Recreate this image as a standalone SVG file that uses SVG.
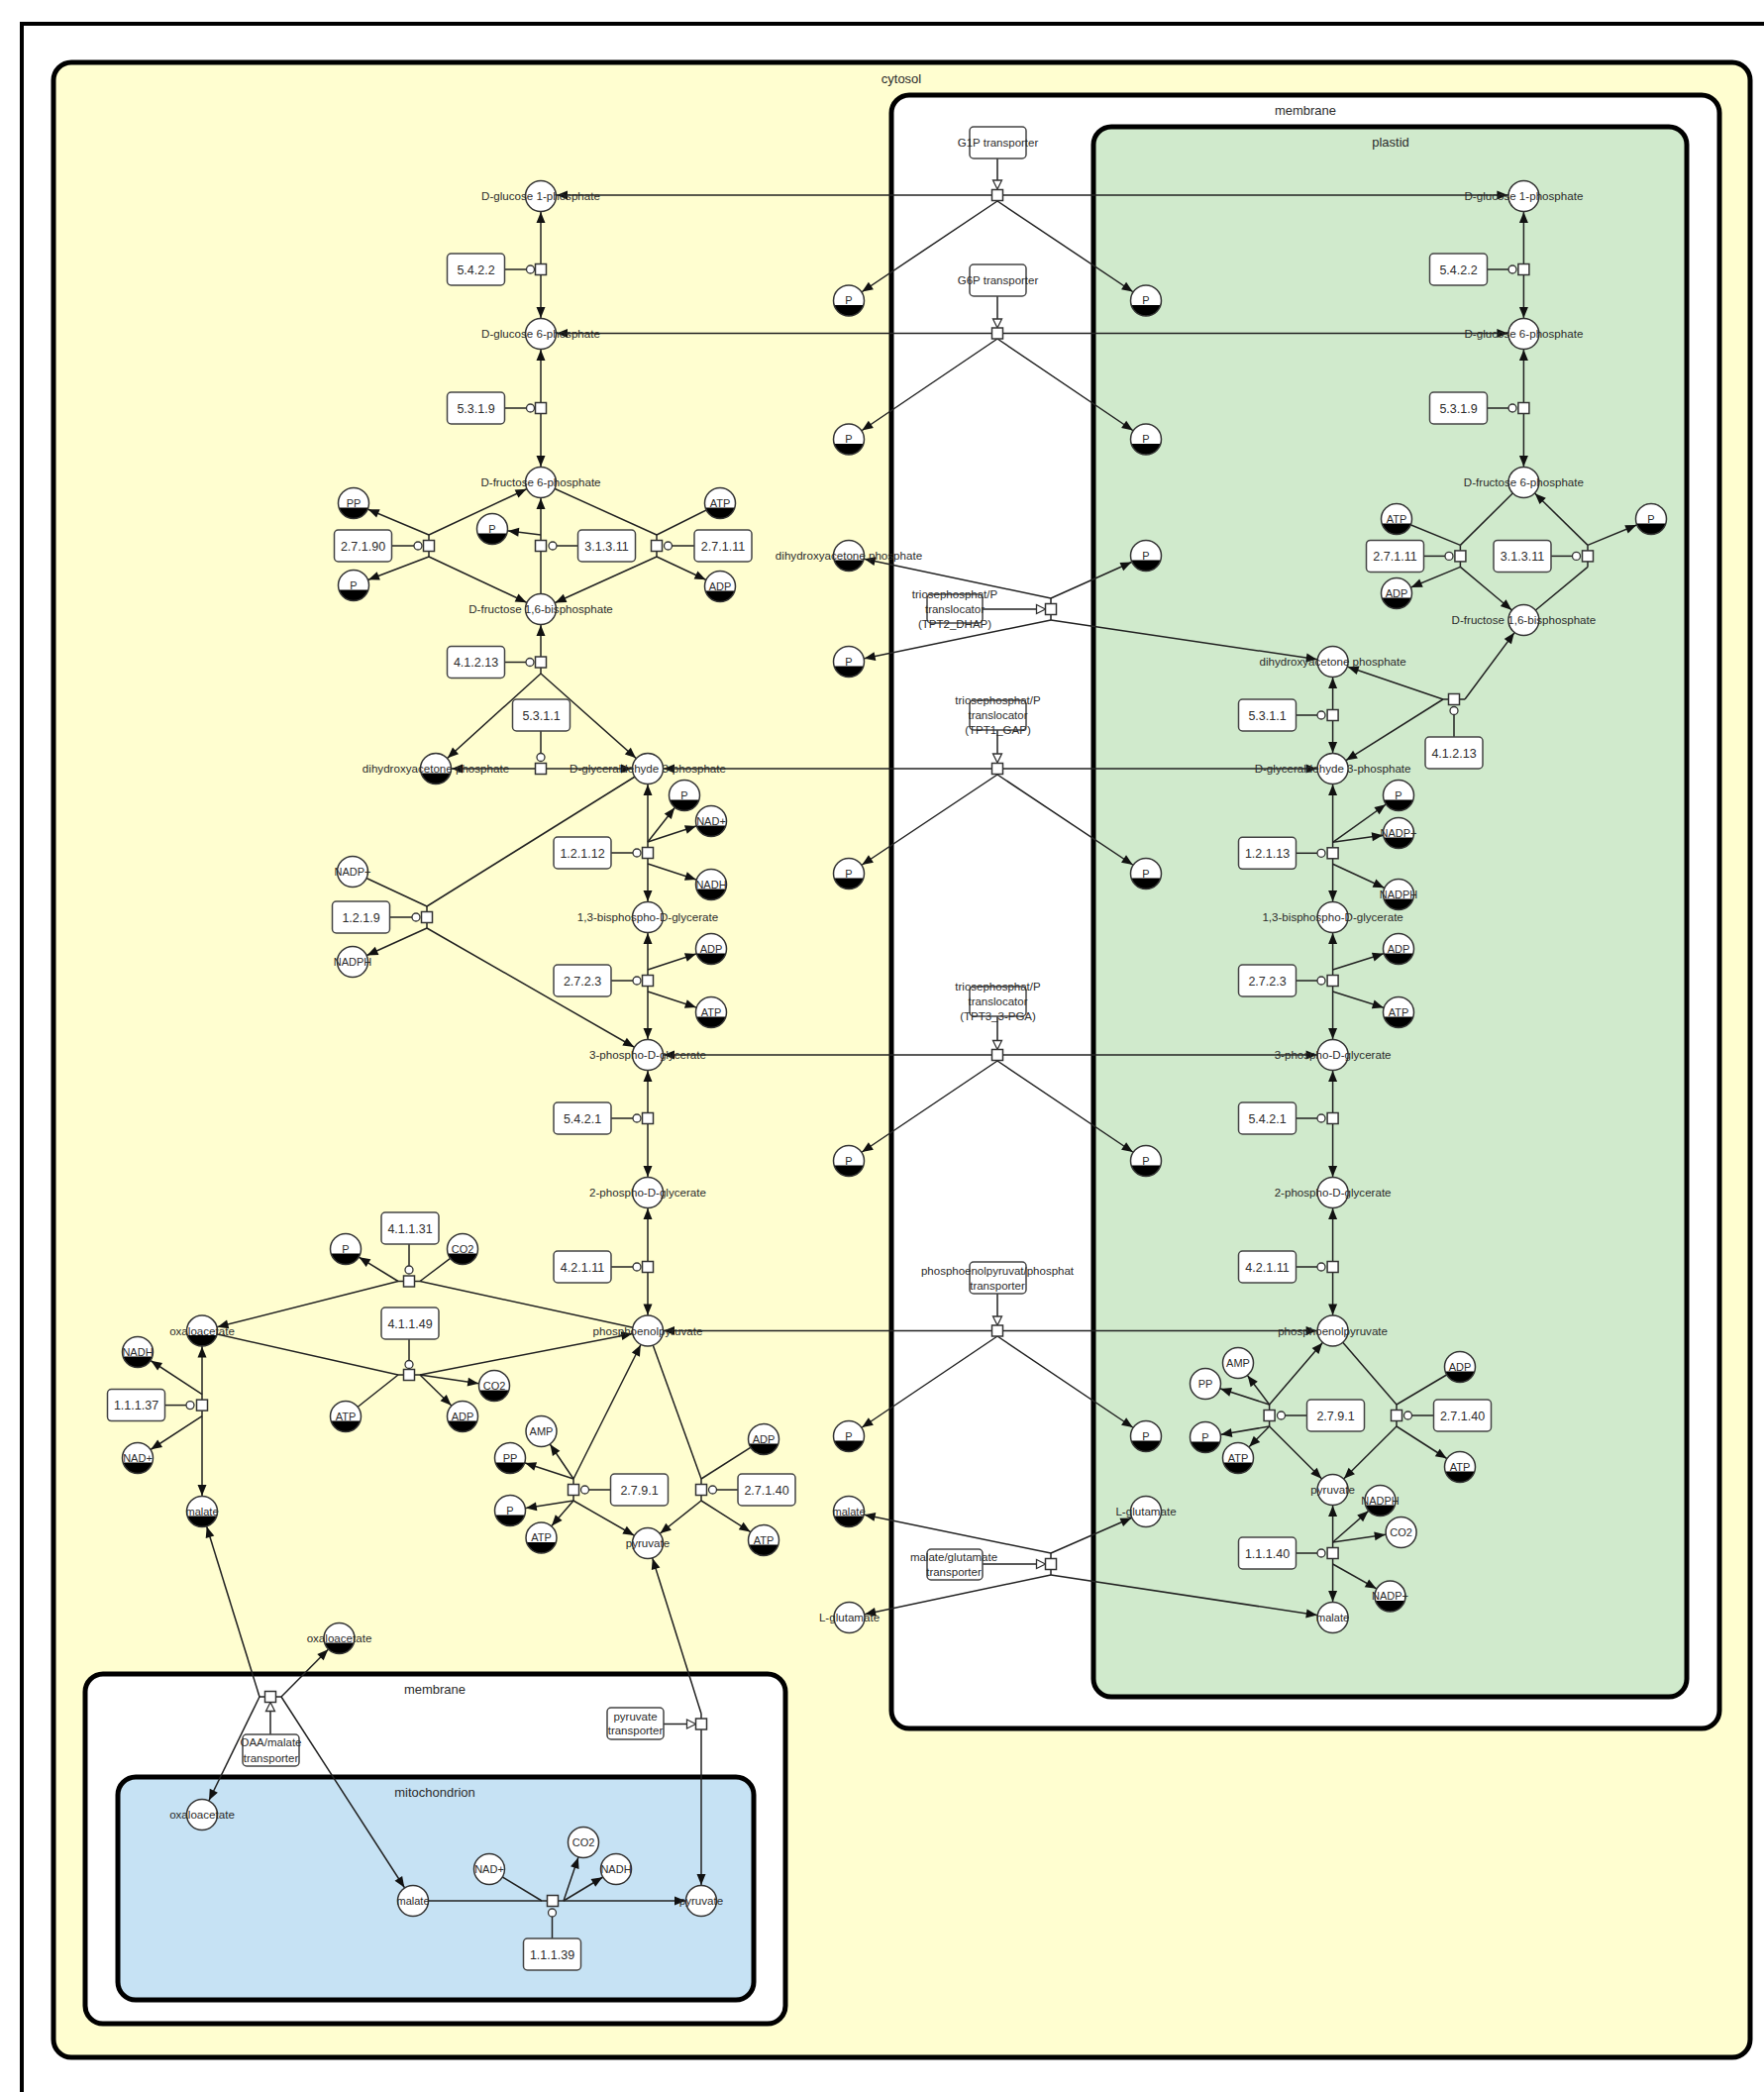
<svg xmlns="http://www.w3.org/2000/svg" xmlns:xlink="http://www.w3.org/1999/xlink" width="1781" height="2112" viewBox="0 0 1781 2112">
<style>
.e{stroke:#222;stroke-width:1.5;fill:none}
.ea{marker-end:url(#arr)}
.eb{marker-start:url(#arr);marker-end:url(#arr)}
text{font-family:"Liberation Sans",Arial,sans-serif;text-anchor:middle;fill:#2b2b2b}
.l{font-size:11.6px}
.s{font-size:11px}
.n{font-size:12.5px}
.c{font-size:13px}
.tr{font-size:11.5px}
.comp{stroke:#000;stroke-width:5}
</style>
<defs>
<marker id="arr" markerUnits="userSpaceOnUse" markerWidth="20" markerHeight="12" refX="16" refY="0" orient="auto-start-reverse" overflow="visible">
<path d="M-11,-4.5 L0,0 L-11,4.5 Z" fill="#111"/>
</marker>
<circle id="mw" r="15.5" fill="#fff" stroke="#333" stroke-width="1.5"/>
<g id="mc">
<circle r="15.5" fill="#fff"/>
<path d="M-14.83,4.5 A15.5,15.5 0 0 0 14.83,4.5 Z" fill="#000"/>
<circle r="15.5" fill="none" stroke="#333" stroke-width="1.5"/>
</g>
<rect id="sq" x="-5.5" y="-5.5" width="11" height="11" fill="#fff" stroke="#333" stroke-width="1.5"/>
<circle id="ci" r="4" fill="#fff" stroke="#333" stroke-width="1.3"/>
<rect id="en" x="-29" y="-16" width="58" height="32" rx="4" fill="#fff" stroke="#444" stroke-width="1.5"/>
<path id="td" d="M0,0 L-4.5,-9 L4.5,-9 Z" fill="#fff" stroke="#333" stroke-width="1.3"/>
<path id="tu" d="M0,0 L-4.5,9 L4.5,9 Z" fill="#fff" stroke="#333" stroke-width="1.3"/>
<path id="tr" d="M0,0 L-9,-4.5 L-9,4.5 Z" fill="#fff" stroke="#333" stroke-width="1.3"/>
</defs>

<rect width="1781" height="2112" fill="#fff"/>
<!-- outer frame -->
<path d="M22,2120 L22,24 L1790,24" fill="none" stroke="#000" stroke-width="4"/>

<!-- compartments -->
<g id="cytosol">
<rect class="comp" x="54" y="63" width="1713" height="2014" rx="18" fill="#fffed0"/>
<text class="c" x="910" y="84">cytosol</text>
</g>
<g id="plastid-membrane">
<rect class="comp" x="900" y="96" width="836" height="1649" rx="18" fill="#fff"/>
<text class="c" x="1318" y="116">membrane</text>
</g>
<g id="plastid">
<rect class="comp" x="1104" y="128" width="599" height="1585" rx="18" fill="#d0eacc"/>
<text class="c" x="1404" y="148">plastid</text>
</g>
<g id="mito-membrane">
<rect class="comp" x="86" y="1690" width="707" height="353" rx="18" fill="#fff"/>
<text class="c" x="439" y="1710">membrane</text>
</g>
<g id="mitochondrion">
<rect class="comp" x="119" y="1794" width="642" height="225" rx="18" fill="#c6e2f4"/>
<text class="c" x="439" y="1814">mitochondrion</text>
</g>

<!-- connectors -->
<g id="connectors" class="e">
<!-- cytosol: 5.4.2.2 -->
<path class="ea" d="M546,272 L546,198"/>
<path class="ea" d="M546,272 L546,337"/>
<path d="M509,272 L531.5,272"/>
<!-- 5.3.1.9 -->
<path class="ea" d="M546,412 L546,337"/>
<path class="ea" d="M546,412 L546,487"/>
<path d="M509,412 L531.5,412"/>
<!-- 2.7.1.90 -->
<path d="M433,540 L433,562"/>
<path class="ea" d="M433,540 L546,487"/>
<path class="ea" d="M433,540 L357,508"/>
<path class="ea" d="M433,562 L546,615"/>
<path class="ea" d="M433,562 L357,591"/>
<path d="M395,551 L418,551"/>
<!-- 3.1.3.11 -->
<path class="ea" d="M546,551 L546,487"/>
<path d="M546,551 L546,615"/>
<path class="ea" d="M546,540 L497,534"/>
<path d="M584,551 L562,551"/>
<!-- 2.7.1.11 -->
<path d="M663,540 L663,562"/>
<path d="M663,540 L546,487"/>
<path d="M663,540 L727,508"/>
<path class="ea" d="M663,562 L546,615"/>
<path class="ea" d="M663,562 L727,592"/>
<path d="M701,551 L678.5,551"/>
<!-- 4.1.2.13 -->
<path class="ea" d="M546,668.5 L546,615"/>
<path d="M546,668.5 L546,680"/>
<path class="ea" d="M546,680 L440,776"/>
<path class="ea" d="M546,680 L654,776"/>
<path d="M509,668.5 L531,668.5"/>
<!-- 5.3.1.1 -->
<path class="ea" d="M546,776 L440,776"/>
<path class="ea" d="M546,776 L654,776"/>
<path d="M546,738 L546,760.5"/>
<!-- 1.2.1.9 -->
<path d="M431,915 L431,937"/>
<path d="M431,915 L654,776"/>
<path d="M431,915 L356,880"/>
<path class="ea" d="M431,937 L654,1065"/>
<path class="ea" d="M431,937 L356,971"/>
<path d="M393,926 L416,926"/>
<!-- 1.2.1.12 -->
<path class="ea" d="M654,861 L654,776"/>
<path class="ea" d="M654,861 L654,926"/>
<path class="ea" d="M654,850 L691,803"/>
<path class="ea" d="M654,850 L718,829"/>
<path class="ea" d="M654,872 L718,893"/>
<path d="M617,861 L639,861"/>
<!-- 2.7.2.3 -->
<path class="ea" d="M654,990 L654,926"/>
<path class="ea" d="M654,990 L654,1065"/>
<path class="ea" d="M654,979 L718,958"/>
<path class="ea" d="M654,1001 L718,1022"/>
<path d="M617,990 L639,990"/>
<!-- 5.4.2.1 -->
<path class="ea" d="M654,1129 L654,1065"/>
<path class="ea" d="M654,1129 L654,1204"/>
<path d="M617,1129 L639,1129"/>
<!-- 4.2.1.11 -->
<path class="ea" d="M654,1279 L654,1204"/>
<path class="ea" d="M654,1279 L654,1343.5"/>
<path d="M617,1279 L639,1279"/>
<!-- 2.7.9.1 -->
<path d="M579,1493 L579,1515"/>
<path class="ea" d="M579,1493 L654,1343.5"/>
<path class="ea" d="M579,1493 L546.5,1445"/>
<path class="ea" d="M579,1493 L515,1472"/>
<path class="ea" d="M579,1515 L515,1525"/>
<path class="ea" d="M579,1515 L546.5,1552.5"/>
<path class="ea" d="M579,1515 L654,1558"/>
<path d="M617,1504 L594.5,1504"/>
<!-- 2.7.1.40 -->
<path d="M708,1493 L708,1515"/>
<path d="M708,1493 L654,1343.5"/>
<path d="M708,1493 L771,1453"/>
<path class="ea" d="M708,1515 L654,1558"/>
<path class="ea" d="M708,1515 L771,1555"/>
<path d="M745,1504 L723.5,1504"/>
<!-- 4.1.1.31 -->
<path d="M402,1293.5 L424,1293.5"/>
<path class="ea" d="M402,1293.5 L204,1343.6"/>
<path class="ea" d="M402,1293.5 L349,1261"/>
<path d="M424,1293.5 L654,1343.5"/>
<path d="M424,1293.5 L467,1261"/>
<path d="M413,1256 L413,1278"/>
<!-- 4.1.1.49 -->
<path d="M402,1388 L424,1388"/>
<path d="M402,1388 L204,1343.6"/>
<path d="M402,1388 L349,1430"/>
<path class="ea" d="M424,1388 L654,1343.5"/>
<path class="ea" d="M424,1388 L499,1399"/>
<path class="ea" d="M424,1388 L467,1430"/>
<path d="M413,1352 L413,1373.5"/>
<!-- 1.1.1.37 -->
<path class="ea" d="M204,1418.6 L204,1343.6"/>
<path class="ea" d="M204,1418.6 L204,1526"/>
<path class="ea" d="M204,1407.6 L139,1365"/>
<path class="ea" d="M204,1429.6 L139,1472"/>
<path d="M166,1418.6 L188,1418.6"/>
<!-- OAA/malate transporter -->
<path d="M262,1713 L284,1713"/>
<path class="ea" d="M262,1713 L204,1526"/>
<path class="ea" d="M262,1713 L204,1832"/>
<path class="ea" d="M284,1713 L342.5,1654"/>
<path class="ea" d="M284,1713 L417,1919"/>
<path d="M273,1751 L273,1727"/>
<!-- 1.1.1.39 -->
<path d="M547,1919 L569,1919"/>
<path d="M547,1919 L417,1919"/>
<path d="M547,1919 L494,1887"/>
<path class="ea" d="M569,1919 L708,1919"/>
<path class="ea" d="M569,1919 L589,1860"/>
<path class="ea" d="M569,1919 L622,1887"/>
<path d="M557.5,1957 L557.5,1935"/>
<!-- pyruvate transporter -->
<path d="M708,1740.5 L708,1730"/>
<path class="ea" d="M708,1730 L654,1558"/>
<path class="ea" d="M708,1740.5 L708,1919"/>
<path d="M670,1740.5 L694,1740.5"/>
<!-- G1P transporter -->
<path class="eb" d="M546,197 L1538.4,197"/>
<path d="M1007,197 L1007,203"/>
<path class="ea" d="M1007,203 L857,303.5"/>
<path class="ea" d="M1007,203 L1157,303.5"/>
<path d="M1007,160 L1007,182"/>
<!-- G6P transporter -->
<path class="eb" d="M546,336.5 L1538.4,336.5"/>
<path d="M1007,336.5 L1007,342"/>
<path class="ea" d="M1007,342 L857,443.5"/>
<path class="ea" d="M1007,342 L1157,443.5"/>
<path d="M1007,299 L1007,322"/>
<!-- TPT2 (DHAP) -->
<path d="M1061,604 L1061,626"/>
<path class="ea" d="M1061,604 L857,561"/>
<path class="ea" d="M1061,604 L1157,561"/>
<path class="ea" d="M1061,626 L857,668"/>
<path class="ea" d="M1061,626 L1345.6,668"/>
<path d="M992,615 L1047,615"/>
<!-- TPT1 (GAP) -->
<path class="eb" d="M654,776 L1345.6,776"/>
<path d="M1007,776 L1007,782"/>
<path class="ea" d="M1007,782 L857,882"/>
<path class="ea" d="M1007,782 L1157,882"/>
<path d="M1007,737 L1007,761"/>
<!-- TPT3 (3-PGA) -->
<path class="eb" d="M654,1065 L1345.6,1065"/>
<path d="M1007,1065 L1007,1071"/>
<path class="ea" d="M1007,1071 L857,1172"/>
<path class="ea" d="M1007,1071 L1157,1172"/>
<path d="M1007,1026 L1007,1050.5"/>
<!-- PEP/phosphate transporter -->
<path class="eb" d="M654,1343.5 L1345.6,1343.5"/>
<path d="M1007,1343.5 L1007,1349"/>
<path class="ea" d="M1007,1349 L857,1450"/>
<path class="ea" d="M1007,1349 L1157,1450"/>
<path d="M1007,1306 L1007,1329"/>
<!-- malate/glutamate transporter -->
<path d="M1061,1568 L1061,1590"/>
<path class="ea" d="M1061,1568 L857,1526"/>
<path class="ea" d="M1061,1568 L1157,1526"/>
<path class="ea" d="M1061,1590 L857.5,1633"/>
<path class="ea" d="M1061,1590 L1345.6,1633"/>
<path d="M992,1579 L1047,1579"/>
<!-- plastid: 5.4.2.2 -->
<path class="ea" d="M1538.4,272 L1538.4,198"/>
<path class="ea" d="M1538.4,272 L1538.4,337"/>
<path d="M1501,272 L1523,272"/>
<!-- 5.3.1.9 -->
<path class="ea" d="M1538.4,412 L1538.4,337"/>
<path class="ea" d="M1538.4,412 L1538.4,487"/>
<path d="M1501,412 L1523,412"/>
<!-- 2.7.1.11 -->
<path d="M1474.4,550.4 L1474.4,572.4"/>
<path d="M1474.4,550.4 L1538.4,487"/>
<path d="M1474.4,550.4 L1410,524"/>
<path class="ea" d="M1474.4,572.4 L1538.4,626"/>
<path class="ea" d="M1474.4,572.4 L1410,599"/>
<path d="M1437,561.4 L1459,561.4"/>
<!-- 3.1.3.11 -->
<path d="M1603,550.4 L1603,572.4"/>
<path class="ea" d="M1603,550.4 L1538.4,487"/>
<path class="ea" d="M1603,550.4 L1667,524"/>
<path d="M1603,572.4 L1538.4,626"/>
<path d="M1565,561.4 L1587.5,561.4"/>
<!-- 4.1.2.13 -->
<path d="M1457,706 L1479,706"/>
<path class="ea" d="M1479,706 L1538.4,626"/>
<path class="ea" d="M1457,706 L1345.6,668"/>
<path class="ea" d="M1457,706 L1345.6,776"/>
<path d="M1468,744 L1468,721.5"/>
<!-- 5.3.1.1 -->
<path class="ea" d="M1345.6,722 L1345.6,668"/>
<path class="ea" d="M1345.6,722 L1345.6,776"/>
<path d="M1308,722 L1330,722"/>
<!-- 1.2.1.13 -->
<path class="ea" d="M1345.6,861.3 L1345.6,776"/>
<path class="ea" d="M1345.6,861.3 L1345.6,926"/>
<path class="ea" d="M1345.6,850.3 L1412,803"/>
<path class="ea" d="M1345.6,850.3 L1412,841"/>
<path class="ea" d="M1345.6,872.3 L1412,903"/>
<path d="M1308,861.3 L1330,861.3"/>
<!-- 2.7.2.3 -->
<path class="ea" d="M1345.6,990 L1345.6,926"/>
<path class="ea" d="M1345.6,990 L1345.6,1065"/>
<path class="ea" d="M1345.6,979 L1412,958"/>
<path class="ea" d="M1345.6,1001 L1412,1022"/>
<path d="M1308,990 L1330,990"/>
<!-- 5.4.2.1 -->
<path class="ea" d="M1345.6,1129 L1345.6,1065"/>
<path class="ea" d="M1345.6,1129 L1345.6,1204"/>
<path d="M1308,1129 L1330,1129"/>
<!-- 4.2.1.11 -->
<path class="ea" d="M1345.6,1279 L1345.6,1204"/>
<path class="ea" d="M1345.6,1279 L1345.6,1343.5"/>
<path d="M1308,1279 L1330,1279"/>
<!-- 2.7.9.1 -->
<path d="M1281.6,1418 L1281.6,1440"/>
<path class="ea" d="M1281.6,1418 L1345.6,1343.5"/>
<path class="ea" d="M1281.6,1418 L1250,1376"/>
<path class="ea" d="M1281.6,1418 L1217,1397"/>
<path class="ea" d="M1281.6,1440 L1217,1451"/>
<path class="ea" d="M1281.6,1440 L1250,1472"/>
<path class="ea" d="M1281.6,1440 L1345.6,1504"/>
<path d="M1320,1429 L1297.5,1429"/>
<!-- 2.7.1.40 -->
<path d="M1410,1418 L1410,1440"/>
<path d="M1410,1418 L1345.6,1343.5"/>
<path d="M1410,1418 L1474,1380"/>
<path class="ea" d="M1410,1440 L1345.6,1504"/>
<path class="ea" d="M1410,1440 L1474,1481"/>
<path d="M1448,1429 L1425.5,1429"/>
<!-- 1.1.1.40 -->
<path class="ea" d="M1345.6,1568 L1345.6,1504"/>
<path class="ea" d="M1345.6,1568 L1345.6,1633"/>
<path class="ea" d="M1345.6,1557 L1393.5,1515"/>
<path class="ea" d="M1345.6,1557 L1414.6,1547"/>
<path class="ea" d="M1345.6,1579 L1403.5,1611.6"/>
<path d="M1308,1568 L1330,1568"/>
</g>

<!-- transport modulation heads -->
<g id="transport-heads">
<use xlink:href="#td" x="1007" y="191"/>
<use xlink:href="#td" x="1007" y="331"/>
<use xlink:href="#tr" x="1055.5" y="615"/>
<use xlink:href="#td" x="1007" y="770"/>
<use xlink:href="#td" x="1007" y="1059.5"/>
<use xlink:href="#td" x="1007" y="1338"/>
<use xlink:href="#tr" x="1055.5" y="1579"/>
<use xlink:href="#tu" x="273" y="1718.5"/>
<use xlink:href="#tr" x="702.5" y="1740.5"/>
</g>

<!-- process nodes -->
<g id="processes">
<g id="pr-c-5422"><use xlink:href="#sq" x="546" y="272"/><use xlink:href="#ci" x="535.5" y="272"/></g>
<g id="pr-c-5319"><use xlink:href="#sq" x="546" y="412"/><use xlink:href="#ci" x="535.5" y="412"/></g>
<g id="pr-c-27190"><use xlink:href="#sq" x="433" y="551"/><use xlink:href="#ci" x="422" y="551"/></g>
<g id="pr-c-31311"><use xlink:href="#sq" x="546" y="551"/><use xlink:href="#ci" x="558" y="551"/></g>
<g id="pr-c-27111"><use xlink:href="#sq" x="663" y="551"/><use xlink:href="#ci" x="674.5" y="551"/></g>
<g id="pr-c-41213"><use xlink:href="#sq" x="546" y="668.5"/><use xlink:href="#ci" x="535" y="668.5"/></g>
<g id="pr-c-5311"><use xlink:href="#sq" x="546" y="776"/><use xlink:href="#ci" x="546" y="764.5"/></g>
<g id="pr-c-1219"><use xlink:href="#sq" x="431" y="926"/><use xlink:href="#ci" x="420" y="926"/></g>
<g id="pr-c-12112"><use xlink:href="#sq" x="654" y="861"/><use xlink:href="#ci" x="643" y="861"/></g>
<g id="pr-c-2723"><use xlink:href="#sq" x="654" y="990"/><use xlink:href="#ci" x="643" y="990"/></g>
<g id="pr-c-5421"><use xlink:href="#sq" x="654" y="1129"/><use xlink:href="#ci" x="643" y="1129"/></g>
<g id="pr-c-42111"><use xlink:href="#sq" x="654" y="1279"/><use xlink:href="#ci" x="643" y="1279"/></g>
<g id="pr-c-2791"><use xlink:href="#sq" x="579" y="1504"/><use xlink:href="#ci" x="590.5" y="1504"/></g>
<g id="pr-c-27140"><use xlink:href="#sq" x="708" y="1504"/><use xlink:href="#ci" x="719.5" y="1504"/></g>
<g id="pr-c-41131"><use xlink:href="#sq" x="413" y="1293.5"/><use xlink:href="#ci" x="413" y="1282"/></g>
<g id="pr-c-41149"><use xlink:href="#sq" x="413" y="1388"/><use xlink:href="#ci" x="413" y="1377.5"/></g>
<g id="pr-c-11137"><use xlink:href="#sq" x="204" y="1418.6"/><use xlink:href="#ci" x="192" y="1418.6"/></g>
<g id="pr-oaa-mal"><use xlink:href="#sq" x="273" y="1713"/></g>
<g id="pr-m-11139"><use xlink:href="#sq" x="558" y="1919"/><use xlink:href="#ci" x="557.5" y="1931"/></g>
<g id="pr-pyr-tr"><use xlink:href="#sq" x="708" y="1740.5"/></g>
<g id="pr-g1p-tr"><use xlink:href="#sq" x="1007" y="197"/></g>
<g id="pr-g6p-tr"><use xlink:href="#sq" x="1007" y="336.5"/></g>
<g id="pr-tpt2"><use xlink:href="#sq" x="1061" y="615"/></g>
<g id="pr-tpt1"><use xlink:href="#sq" x="1007" y="776"/></g>
<g id="pr-tpt3"><use xlink:href="#sq" x="1007" y="1065"/></g>
<g id="pr-ppt"><use xlink:href="#sq" x="1007" y="1343.5"/></g>
<g id="pr-malglu"><use xlink:href="#sq" x="1061" y="1579"/></g>
<g id="pr-p-5422"><use xlink:href="#sq" x="1538.4" y="272"/><use xlink:href="#ci" x="1527" y="272"/></g>
<g id="pr-p-5319"><use xlink:href="#sq" x="1538.4" y="412"/><use xlink:href="#ci" x="1527" y="412"/></g>
<g id="pr-p-27111"><use xlink:href="#sq" x="1474.4" y="561.4"/><use xlink:href="#ci" x="1463" y="561.4"/></g>
<g id="pr-p-31311"><use xlink:href="#sq" x="1603" y="561.4"/><use xlink:href="#ci" x="1591.5" y="561.4"/></g>
<g id="pr-p-41213"><use xlink:href="#sq" x="1468" y="706"/><use xlink:href="#ci" x="1468" y="717.5"/></g>
<g id="pr-p-5311"><use xlink:href="#sq" x="1345.6" y="722"/><use xlink:href="#ci" x="1334" y="722"/></g>
<g id="pr-p-12113"><use xlink:href="#sq" x="1345.6" y="861.3"/><use xlink:href="#ci" x="1334" y="861.3"/></g>
<g id="pr-p-2723"><use xlink:href="#sq" x="1345.6" y="990"/><use xlink:href="#ci" x="1334" y="990"/></g>
<g id="pr-p-5421"><use xlink:href="#sq" x="1345.6" y="1129"/><use xlink:href="#ci" x="1334" y="1129"/></g>
<g id="pr-p-42111"><use xlink:href="#sq" x="1345.6" y="1279"/><use xlink:href="#ci" x="1334" y="1279"/></g>
<g id="pr-p-2791"><use xlink:href="#sq" x="1281.6" y="1429"/><use xlink:href="#ci" x="1293.5" y="1429"/></g>
<g id="pr-p-27140"><use xlink:href="#sq" x="1410" y="1429"/><use xlink:href="#ci" x="1421.5" y="1429"/></g>
<g id="pr-p-11140"><use xlink:href="#sq" x="1345.6" y="1568"/><use xlink:href="#ci" x="1334" y="1568"/></g>
</g>

<!-- enzymes -->
<g id="enzymes">
<g id="en-c-5422"><use xlink:href="#en" x="480.5" y="272"/><text class="n" x="480.5" y="276.5">5.4.2.2</text></g>
<g id="en-c-5319"><use xlink:href="#en" x="480.5" y="412"/><text class="n" x="480.5" y="416.5">5.3.1.9</text></g>
<g id="en-c-27190"><use xlink:href="#en" x="366.5" y="551"/><text class="n" x="366.5" y="555.5">2.7.1.90</text></g>
<g id="en-c-31311"><use xlink:href="#en" x="612.5" y="551"/><text class="n" x="612.5" y="555.5">3.1.3.11</text></g>
<g id="en-c-27111"><use xlink:href="#en" x="730" y="551"/><text class="n" x="730" y="555.5">2.7.1.11</text></g>
<g id="en-c-41213"><use xlink:href="#en" x="480.5" y="668.5"/><text class="n" x="480.5" y="673">4.1.2.13</text></g>
<g id="en-c-5311"><use xlink:href="#en" x="546.5" y="722"/><text class="n" x="546.5" y="726.5">5.3.1.1</text></g>
<g id="en-c-1219"><use xlink:href="#en" x="364.5" y="926"/><text class="n" x="364.5" y="930.5">1.2.1.9</text></g>
<g id="en-c-12112"><use xlink:href="#en" x="588" y="861"/><text class="n" x="588" y="865.5">1.2.1.12</text></g>
<g id="en-c-2723"><use xlink:href="#en" x="588" y="990"/><text class="n" x="588" y="994.5">2.7.2.3</text></g>
<g id="en-c-5421"><use xlink:href="#en" x="588" y="1129"/><text class="n" x="588" y="1133.5">5.4.2.1</text></g>
<g id="en-c-42111"><use xlink:href="#en" x="588" y="1279"/><text class="n" x="588" y="1283.5">4.2.1.11</text></g>
<g id="en-c-2791"><use xlink:href="#en" x="645.5" y="1504"/><text class="n" x="645.5" y="1508.5">2.7.9.1</text></g>
<g id="en-c-27140"><use xlink:href="#en" x="774" y="1504"/><text class="n" x="774" y="1508.5">2.7.1.40</text></g>
<g id="en-c-41131"><use xlink:href="#en" x="414" y="1240"/><text class="n" x="414" y="1244.5">4.1.1.31</text></g>
<g id="en-c-41149"><use xlink:href="#en" x="414" y="1336"/><text class="n" x="414" y="1340.5">4.1.1.49</text></g>
<g id="en-c-11137"><use xlink:href="#en" x="137.5" y="1418.6"/><text class="n" x="137.5" y="1423">1.1.1.37</text></g>
<g id="en-m-11139"><use xlink:href="#en" x="557.5" y="1973"/><text class="n" x="557.5" y="1977.5">1.1.1.39</text></g>
<g id="en-p-5422"><use xlink:href="#en" x="1472.5" y="272"/><text class="n" x="1472.5" y="276.5">5.4.2.2</text></g>
<g id="en-p-5319"><use xlink:href="#en" x="1472.5" y="412"/><text class="n" x="1472.5" y="416.5">5.3.1.9</text></g>
<g id="en-p-27111"><use xlink:href="#en" x="1408.5" y="561.4"/><text class="n" x="1408.5" y="566">2.7.1.11</text></g>
<g id="en-p-31311"><use xlink:href="#en" x="1537" y="561.4"/><text class="n" x="1537" y="566">3.1.3.11</text></g>
<g id="en-p-41213"><use xlink:href="#en" x="1468" y="760"/><text class="n" x="1468" y="764.5">4.1.2.13</text></g>
<g id="en-p-5311"><use xlink:href="#en" x="1279.5" y="722"/><text class="n" x="1279.5" y="726.5">5.3.1.1</text></g>
<g id="en-p-12113"><use xlink:href="#en" x="1279.5" y="861.3"/><text class="n" x="1279.5" y="866">1.2.1.13</text></g>
<g id="en-p-2723"><use xlink:href="#en" x="1279.5" y="990"/><text class="n" x="1279.5" y="994.5">2.7.2.3</text></g>
<g id="en-p-5421"><use xlink:href="#en" x="1279.5" y="1129"/><text class="n" x="1279.5" y="1133.5">5.4.2.1</text></g>
<g id="en-p-42111"><use xlink:href="#en" x="1279.5" y="1279"/><text class="n" x="1279.5" y="1283.5">4.2.1.11</text></g>
<g id="en-p-2791"><use xlink:href="#en" x="1348.5" y="1429"/><text class="n" x="1348.5" y="1433.5">2.7.9.1</text></g>
<g id="en-p-27140"><use xlink:href="#en" x="1476.5" y="1429"/><text class="n" x="1476.5" y="1433.5">2.7.1.40</text></g>
<g id="en-p-11140"><use xlink:href="#en" x="1279.5" y="1568"/><text class="n" x="1279.5" y="1572.5">1.1.1.40</text></g>
</g>

<!-- transporters -->
<g id="transporters">
<g id="tr-g1p"><rect x="979" y="128" width="57" height="32" rx="4" fill="#fff" stroke="#444" stroke-width="1.5"/><text class="tr" x="1007.5" y="148">G1P transporter</text></g>
<g id="tr-g6p"><rect x="979" y="267" width="57" height="32" rx="4" fill="#fff" stroke="#444" stroke-width="1.5"/><text class="tr" x="1007.5" y="287">G6P transporter</text></g>
<g id="tr-tpt2"><rect x="936" y="600" width="56" height="29" rx="4" fill="#fff" stroke="#444" stroke-width="1.5"/><text class="tr" x="964" y="604">triosephosphat/P</text><text class="tr" x="964" y="619">translocator</text><text class="tr" x="964" y="634">(TPT2_DHAP)</text></g>
<g id="tr-tpt1"><rect x="979" y="707" width="57" height="30" rx="4" fill="#fff" stroke="#444" stroke-width="1.5"/><text class="tr" x="1007.5" y="711">triosephosphat/P</text><text class="tr" x="1007.5" y="726">translocator</text><text class="tr" x="1007.5" y="741">(TPT1_GAP)</text></g>
<g id="tr-tpt3"><rect x="979" y="996" width="57" height="30" rx="4" fill="#fff" stroke="#444" stroke-width="1.5"/><text class="tr" x="1007.5" y="1000">triosephosphat/P</text><text class="tr" x="1007.5" y="1015">translocator</text><text class="tr" x="1007.5" y="1030">(TPT3_3-PGA)</text></g>
<g id="tr-ppt"><rect x="979" y="1274" width="57" height="32" rx="4" fill="#fff" stroke="#444" stroke-width="1.5"/><text class="tr" x="1007" y="1287">phosphoenolpyruvat/phosphat</text><text class="tr" x="1007" y="1302">transporter</text></g>
<g id="tr-malglu"><rect x="936" y="1564" width="56" height="31" rx="4" fill="#fff" stroke="#444" stroke-width="1.5"/><text class="tr" x="963" y="1576">malate/glutamate</text><text class="tr" x="963" y="1590.5">transporter</text></g>
<g id="tr-oaamal"><rect x="245" y="1751" width="57" height="32" rx="4" fill="#fff" stroke="#444" stroke-width="1.5"/><text class="tr" x="273.5" y="1763">OAA/malate</text><text class="tr" x="273.5" y="1778.5">transporter</text></g>
<g id="tr-pyr"><rect x="613" y="1724" width="57" height="32" rx="4" fill="#fff" stroke="#444" stroke-width="1.5"/><text class="tr" x="641.5" y="1736.5">pyruvate</text><text class="tr" x="641.5" y="1751">transporter</text></g>
</g>

<!-- metabolites -->
<g id="metabolites">
<!-- cytosol -->
<g id="c-g1p"><use xlink:href="#mw" x="546" y="198"/><text class="l" x="546" y="202">D-glucose 1-phosphate</text></g>
<g id="c-g6p"><use xlink:href="#mw" x="546" y="337"/><text class="l" x="546" y="341">D-glucose 6-phosphate</text></g>
<g id="c-f6p"><use xlink:href="#mw" x="546" y="487"/><text class="l" x="546" y="491">D-fructose 6-phosphate</text></g>
<g id="c-f16bp"><use xlink:href="#mw" x="546" y="615"/><text class="l" x="546" y="619">D-fructose 1,6-bisphosphate</text></g>
<g id="c-pp1"><use xlink:href="#mc" x="357" y="508"/><text class="s" x="357" y="511.5">PP</text></g>
<g id="c-p1"><use xlink:href="#mc" x="357" y="591"/><text class="s" x="357" y="594.5">P</text></g>
<g id="c-p2"><use xlink:href="#mc" x="497" y="534"/><text class="s" x="497" y="537.5">P</text></g>
<g id="c-atp1"><use xlink:href="#mc" x="727" y="508"/><text class="s" x="727" y="511.5">ATP</text></g>
<g id="c-adp1"><use xlink:href="#mc" x="727" y="592"/><text class="s" x="727" y="595.5">ADP</text></g>
<g id="c-dhap"><use xlink:href="#mc" x="440" y="776"/><text class="l" x="440" y="780">dihydroxyacetone phosphate</text></g>
<g id="c-gap"><use xlink:href="#mw" x="654" y="776"/><text class="l" x="654" y="780">D-glyceraldehyde 3-phosphate</text></g>
<g id="c-nadp1"><use xlink:href="#mw" x="356" y="880"/><text class="s" x="356" y="884">NADP+</text></g>
<g id="c-nadph1"><use xlink:href="#mw" x="356" y="971"/><text class="s" x="356" y="975">NADPH</text></g>
<g id="c-p3"><use xlink:href="#mc" x="691" y="803"/><text class="s" x="691" y="806.5">P</text></g>
<g id="c-nad1"><use xlink:href="#mc" x="718" y="829"/><text class="s" x="718" y="832.5">NAD+</text></g>
<g id="c-nadh1"><use xlink:href="#mc" x="718" y="893"/><text class="s" x="718" y="896.5">NADH</text></g>
<g id="c-bpg"><use xlink:href="#mw" x="654" y="926"/><text class="l" x="654" y="930">1,3-bisphospho-D-glycerate</text></g>
<g id="c-adp2"><use xlink:href="#mc" x="718" y="958"/><text class="s" x="718" y="961.5">ADP</text></g>
<g id="c-atp2"><use xlink:href="#mc" x="718" y="1022"/><text class="s" x="718" y="1025.5">ATP</text></g>
<g id="c-3pg"><use xlink:href="#mw" x="654" y="1065"/><text class="l" x="654" y="1069">3-phospho-D-glycerate</text></g>
<g id="c-2pg"><use xlink:href="#mw" x="654" y="1204"/><text class="l" x="654" y="1208">2-phospho-D-glycerate</text></g>
<g id="c-pep"><use xlink:href="#mw" x="654" y="1343.5"/><text class="l" x="654" y="1347.5">phosphoenolpyruvate</text></g>
<g id="c-adp3"><use xlink:href="#mc" x="771" y="1453"/><text class="s" x="771" y="1456.5">ADP</text></g>
<g id="c-atp3"><use xlink:href="#mc" x="771" y="1555"/><text class="s" x="771" y="1558.5">ATP</text></g>
<g id="c-pyr"><use xlink:href="#mw" x="654" y="1558"/><text class="l" x="654" y="1562">pyruvate</text></g>
<g id="c-amp"><use xlink:href="#mw" x="546.5" y="1445"/><text class="s" x="546.5" y="1449">AMP</text></g>
<g id="c-pp2"><use xlink:href="#mc" x="515" y="1472"/><text class="s" x="515" y="1475.5">PP</text></g>
<g id="c-p4"><use xlink:href="#mc" x="515" y="1525"/><text class="s" x="515" y="1528.5">P</text></g>
<g id="c-atp4"><use xlink:href="#mc" x="546.5" y="1552.5"/><text class="s" x="546.5" y="1556">ATP</text></g>
<g id="c-p5"><use xlink:href="#mc" x="349" y="1261"/><text class="s" x="349" y="1264.5">P</text></g>
<g id="c-co2a"><use xlink:href="#mc" x="467" y="1261"/><text class="s" x="467" y="1264.5">CO2</text></g>
<g id="c-oaa"><use xlink:href="#mc" x="204" y="1343.6"/><text class="l" x="204" y="1347.5">oxaloacetate</text></g>
<g id="c-co2b"><use xlink:href="#mc" x="499" y="1399"/><text class="s" x="499" y="1402.5">CO2</text></g>
<g id="c-atp5"><use xlink:href="#mc" x="349" y="1430"/><text class="s" x="349" y="1433.5">ATP</text></g>
<g id="c-adp5"><use xlink:href="#mc" x="467" y="1430"/><text class="s" x="467" y="1433.5">ADP</text></g>
<g id="c-nadh2"><use xlink:href="#mc" x="139" y="1365"/><text class="s" x="139" y="1368.5">NADH</text></g>
<g id="c-nad2"><use xlink:href="#mc" x="139" y="1472"/><text class="s" x="139" y="1475.5">NAD+</text></g>
<g id="c-mal"><use xlink:href="#mc" x="204" y="1526"/><text class="s" x="204" y="1529.5">malate</text></g>
<g id="c-oaa2"><use xlink:href="#mc" x="342.5" y="1654"/><text class="l" x="342.5" y="1658">oxaloacetate</text></g>
<g id="c-dhap2"><use xlink:href="#mc" x="857" y="561"/><text class="l" x="857" y="565">dihydroxyacetone phosphate</text></g>
<g id="c-tp1"><use xlink:href="#mc" x="857" y="303.5"/><text class="s" x="857" y="307">P</text></g>
<g id="c-tp2"><use xlink:href="#mc" x="857" y="443.5"/><text class="s" x="857" y="447">P</text></g>
<g id="c-tp3"><use xlink:href="#mc" x="857" y="668"/><text class="s" x="857" y="671.5">P</text></g>
<g id="c-tp4"><use xlink:href="#mc" x="857" y="882"/><text class="s" x="857" y="885.5">P</text></g>
<g id="c-tp5"><use xlink:href="#mc" x="857" y="1172"/><text class="s" x="857" y="1175.5">P</text></g>
<g id="c-tp6"><use xlink:href="#mc" x="857" y="1450"/><text class="s" x="857" y="1453.5">P</text></g>
<g id="c-mal2"><use xlink:href="#mc" x="857" y="1526"/><text class="s" x="857" y="1529.5">malate</text></g>
<g id="c-lglu"><use xlink:href="#mw" x="857.5" y="1633"/><text class="l" x="857.5" y="1637">L-glutamate</text></g>
<!-- plastid -->
<g id="p-tp1"><use xlink:href="#mc" x="1157" y="303.5"/><text class="s" x="1157" y="307">P</text></g>
<g id="p-tp2"><use xlink:href="#mc" x="1157" y="443.5"/><text class="s" x="1157" y="447">P</text></g>
<g id="p-tp3"><use xlink:href="#mc" x="1157" y="561"/><text class="s" x="1157" y="564.5">P</text></g>
<g id="p-tp4"><use xlink:href="#mc" x="1157" y="882"/><text class="s" x="1157" y="885.5">P</text></g>
<g id="p-tp5"><use xlink:href="#mc" x="1157" y="1172"/><text class="s" x="1157" y="1175.5">P</text></g>
<g id="p-tp6"><use xlink:href="#mc" x="1157" y="1450"/><text class="s" x="1157" y="1453.5">P</text></g>
<g id="p-lglu"><use xlink:href="#mw" x="1157" y="1526"/><text class="l" x="1157" y="1530">L-glutamate</text></g>
<g id="p-g1p"><use xlink:href="#mw" x="1538.4" y="198"/><text class="l" x="1538.4" y="202">D-glucose 1-phosphate</text></g>
<g id="p-g6p"><use xlink:href="#mw" x="1538.4" y="337"/><text class="l" x="1538.4" y="341">D-glucose 6-phosphate</text></g>
<g id="p-f6p"><use xlink:href="#mw" x="1538.4" y="487"/><text class="l" x="1538.4" y="491">D-fructose 6-phosphate</text></g>
<g id="p-atp1"><use xlink:href="#mc" x="1410" y="524"/><text class="s" x="1410" y="527.5">ATP</text></g>
<g id="p-adp1"><use xlink:href="#mc" x="1410" y="599"/><text class="s" x="1410" y="602.5">ADP</text></g>
<g id="p-p1"><use xlink:href="#mc" x="1667" y="524"/><text class="s" x="1667" y="527.5">P</text></g>
<g id="p-f16bp"><use xlink:href="#mw" x="1538.4" y="626"/><text class="l" x="1538.4" y="630">D-fructose 1,6-bisphosphate</text></g>
<g id="p-dhap"><use xlink:href="#mw" x="1345.6" y="668"/><text class="l" x="1345.6" y="672">dihydroxyacetone phosphate</text></g>
<g id="p-gap"><use xlink:href="#mw" x="1345.6" y="776"/><text class="l" x="1345.6" y="780">D-glyceraldehyde 3-phosphate</text></g>
<g id="p-p2"><use xlink:href="#mc" x="1412" y="803"/><text class="s" x="1412" y="806.5">P</text></g>
<g id="p-nadp"><use xlink:href="#mc" x="1412" y="841"/><text class="s" x="1412" y="844.5">NADP+</text></g>
<g id="p-nadph"><use xlink:href="#mc" x="1412" y="903"/><text class="s" x="1412" y="906.5">NADPH</text></g>
<g id="p-bpg"><use xlink:href="#mw" x="1345.6" y="926"/><text class="l" x="1345.6" y="930">1,3-bisphospho-D-glycerate</text></g>
<g id="p-adp2"><use xlink:href="#mc" x="1412" y="958"/><text class="s" x="1412" y="961.5">ADP</text></g>
<g id="p-atp2"><use xlink:href="#mc" x="1412" y="1022"/><text class="s" x="1412" y="1025.5">ATP</text></g>
<g id="p-3pg"><use xlink:href="#mw" x="1345.6" y="1065"/><text class="l" x="1345.6" y="1069">3-phospho-D-glycerate</text></g>
<g id="p-2pg"><use xlink:href="#mw" x="1345.6" y="1204"/><text class="l" x="1345.6" y="1208">2-phospho-D-glycerate</text></g>
<g id="p-pep"><use xlink:href="#mw" x="1345.6" y="1343.5"/><text class="l" x="1345.6" y="1347.5">phosphoenolpyruvate</text></g>
<g id="p-amp"><use xlink:href="#mw" x="1250" y="1376"/><text class="s" x="1250" y="1380">AMP</text></g>
<g id="p-pp"><use xlink:href="#mw" x="1217" y="1397"/><text class="s" x="1217" y="1401">PP</text></g>
<g id="p-p3"><use xlink:href="#mc" x="1217" y="1451"/><text class="s" x="1217" y="1454.5">P</text></g>
<g id="p-atp3"><use xlink:href="#mc" x="1250" y="1472"/><text class="s" x="1250" y="1475.5">ATP</text></g>
<g id="p-adp3"><use xlink:href="#mc" x="1474" y="1380"/><text class="s" x="1474" y="1383.5">ADP</text></g>
<g id="p-atp4"><use xlink:href="#mc" x="1474" y="1481"/><text class="s" x="1474" y="1484.5">ATP</text></g>
<g id="p-pyr"><use xlink:href="#mw" x="1345.6" y="1504"/><text class="l" x="1345.6" y="1508">pyruvate</text></g>
<g id="p-nadph2"><use xlink:href="#mc" x="1393.5" y="1515"/><text class="s" x="1393.5" y="1518.5">NADPH</text></g>
<g id="p-co2"><use xlink:href="#mw" x="1414.6" y="1547"/><text class="s" x="1414.6" y="1551">CO2</text></g>
<g id="p-nadp2"><use xlink:href="#mc" x="1403.5" y="1611.6"/><text class="s" x="1403.5" y="1615">NADP+</text></g>
<g id="p-mal"><use xlink:href="#mw" x="1345.6" y="1633"/><text class="s" x="1345.6" y="1637">malate</text></g>
<!-- mitochondrion -->
<g id="m-oaa"><use xlink:href="#mw" x="204" y="1832"/><text class="l" x="204" y="1836">oxaloacetate</text></g>
<g id="m-mal"><use xlink:href="#mw" x="417" y="1919"/><text class="s" x="417" y="1923">malate</text></g>
<g id="m-nad"><use xlink:href="#mw" x="494" y="1887"/><text class="s" x="494" y="1891">NAD+</text></g>
<g id="m-co2"><use xlink:href="#mw" x="589" y="1860"/><text class="s" x="589" y="1864">CO2</text></g>
<g id="m-nadh"><use xlink:href="#mw" x="622" y="1887"/><text class="s" x="622" y="1891">NADH</text></g>
<g id="m-pyr"><use xlink:href="#mw" x="708" y="1919"/><text class="l" x="708" y="1923">pyruvate</text></g>
</g>
</svg>
